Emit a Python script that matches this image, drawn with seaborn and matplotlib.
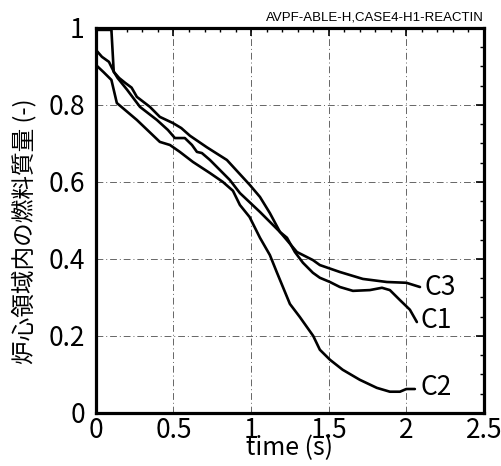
import numpy as np
import pandas as pd
import matplotlib
matplotlib.use("Agg")
import matplotlib.pyplot as plt
import seaborn as sns
from matplotlib.ticker import MultipleLocator, FuncFormatter

# ---- data ----
t_c1 = [0.0, 0.10, 0.115, 0.15, 0.19, 0.23, 0.264, 0.348, 0.412, 0.496, 0.55, 0.606, 0.715,
        0.844, 0.992, 1.057, 1.121, 1.186, 1.231, 1.282, 1.334, 1.398, 1.443, 1.508, 1.572,
        1.656, 1.765, 1.843, 1.894, 1.959, 2.023, 2.068]
y_c1 = [0.995, 0.995, 0.886, 0.870, 0.857, 0.845, 0.821, 0.795, 0.769, 0.753, 0.740, 0.720, 0.690,
        0.657, 0.592, 0.561, 0.519, 0.470, 0.455, 0.418, 0.390, 0.364, 0.351, 0.340, 0.327,
        0.317, 0.319, 0.325, 0.319, 0.293, 0.268, 0.236]

t_c3 = [0.0, 0.039, 0.084, 0.116, 0.14, 0.20, 0.284, 0.393, 0.464, 0.509, 0.573, 0.619, 0.651,
        0.683, 0.735, 0.799, 0.863, 0.928, 1.057, 1.186, 1.295, 1.398, 1.443, 1.572, 1.72,
        1.875, 2.0, 2.088]
y_c3 = [0.943, 0.925, 0.912, 0.886, 0.870, 0.840, 0.795, 0.761, 0.735, 0.714, 0.714, 0.696, 0.678,
        0.675, 0.657, 0.631, 0.605, 0.571, 0.522, 0.470, 0.418, 0.397, 0.384, 0.366, 0.348,
        0.340, 0.338, 0.327]

t_c2 = [0.0, 0.05, 0.10, 0.135, 0.264, 0.412, 0.477, 0.541, 0.625, 0.735, 0.818, 0.883, 0.928,
        0.99, 1.057, 1.121, 1.166, 1.25, 1.314, 1.40, 1.443, 1.508, 1.59, 1.70, 1.81, 1.894,
        1.959, 2.0, 2.055]
y_c2 = [0.904, 0.885, 0.865, 0.805, 0.761, 0.704, 0.696, 0.678, 0.652, 0.623, 0.600, 0.577, 0.540,
        0.509, 0.455, 0.410, 0.365, 0.283, 0.249, 0.200, 0.164, 0.138, 0.112, 0.086, 0.065, 0.055,
        0.055, 0.062, 0.062]

curve_names = ["C1", "C2", "C3"]
label_t = [2.094, 2.094, 2.12]
label_y = [0.239, 0.065, 0.325]

title_text = "AVPF-ABLE-H,CASE4-H1-REACTIN"
xlabel_text = "time (s)"
ylabel_text = "炉心領域内の燃料質量 (-)"

# ---- build long table ----
frames = []
for name, t, y in zip(curve_names, [t_c1, t_c2, t_c3], [y_c1, y_c2, y_c3]):
    frames.append(pd.DataFrame({"t": t, "y": y, "curve": name}))
df = pd.concat(frames, ignore_index=True)

sns.set_theme(style="white")
plt.rcParams["font.family"] = ["Noto Sans CJK JP", "DejaVu Sans"]

fig = plt.figure(figsize=(5.02, 4.66), dpi=100)
ax = fig.add_axes([0.191, 0.114, 0.773, 0.826])

sns.lineplot(data=df, x="t", y="y", hue="curve", units="curve", estimator=None, sort=False,
             palette={"C1": "black", "C2": "black", "C3": "black"}, linewidth=1.9,
             legend=False, ax=ax)

ax.set_xlim(0, 2.5)
ax.set_ylim(0, 1)
ax.xaxis.set_major_locator(MultipleLocator(0.5))
ax.xaxis.set_minor_locator(MultipleLocator(0.1))
ax.yaxis.set_major_locator(MultipleLocator(0.2))
ax.yaxis.set_minor_locator(MultipleLocator(0.05))
ax.xaxis.set_major_formatter(FuncFormatter(lambda v, p: f"{v:g}"))
ax.yaxis.set_major_formatter(FuncFormatter(lambda v, p: f"{v:g}"))

ax.tick_params(axis="both", which="major", direction="in", length=6, width=1.2,
               top=True, right=True, labelsize=19, colors="black", pad=3)
ax.tick_params(axis="both", which="minor", direction="in", length=3, width=1.0,
               top=True, right=True, colors="black")
ax.tick_params(axis="y", which="major", pad=8)

for s in ax.spines.values():
    s.set_visible(True)
    s.set_linewidth(2.3)
    s.set_color("black")

ax.grid(True, which="major", color="black", linestyle=(0, (7, 3, 1, 3)), linewidth=0.7, alpha=0.6)

ax.set_xlabel(xlabel_text, fontsize=18, color="black")
ax.set_ylabel(ylabel_text, fontsize=17, color="black")
ax.xaxis.set_label_coords(0.5, -0.058)
ax.yaxis.set_label_coords(-0.152, 0.473)

for name, lx, ly in zip(curve_names, label_t, label_y):
    ax.text(lx, ly, name, fontsize=19, ha="left", va="center", color="black")

ax.text(1.0, 1.012, title_text, transform=ax.transAxes, ha="right", va="bottom",
        fontsize=9.5, color="black", family=["Liberation Sans Narrow", "Liberation Sans", "DejaVu Sans"])

fig.savefig("out.png", dpi=100)
